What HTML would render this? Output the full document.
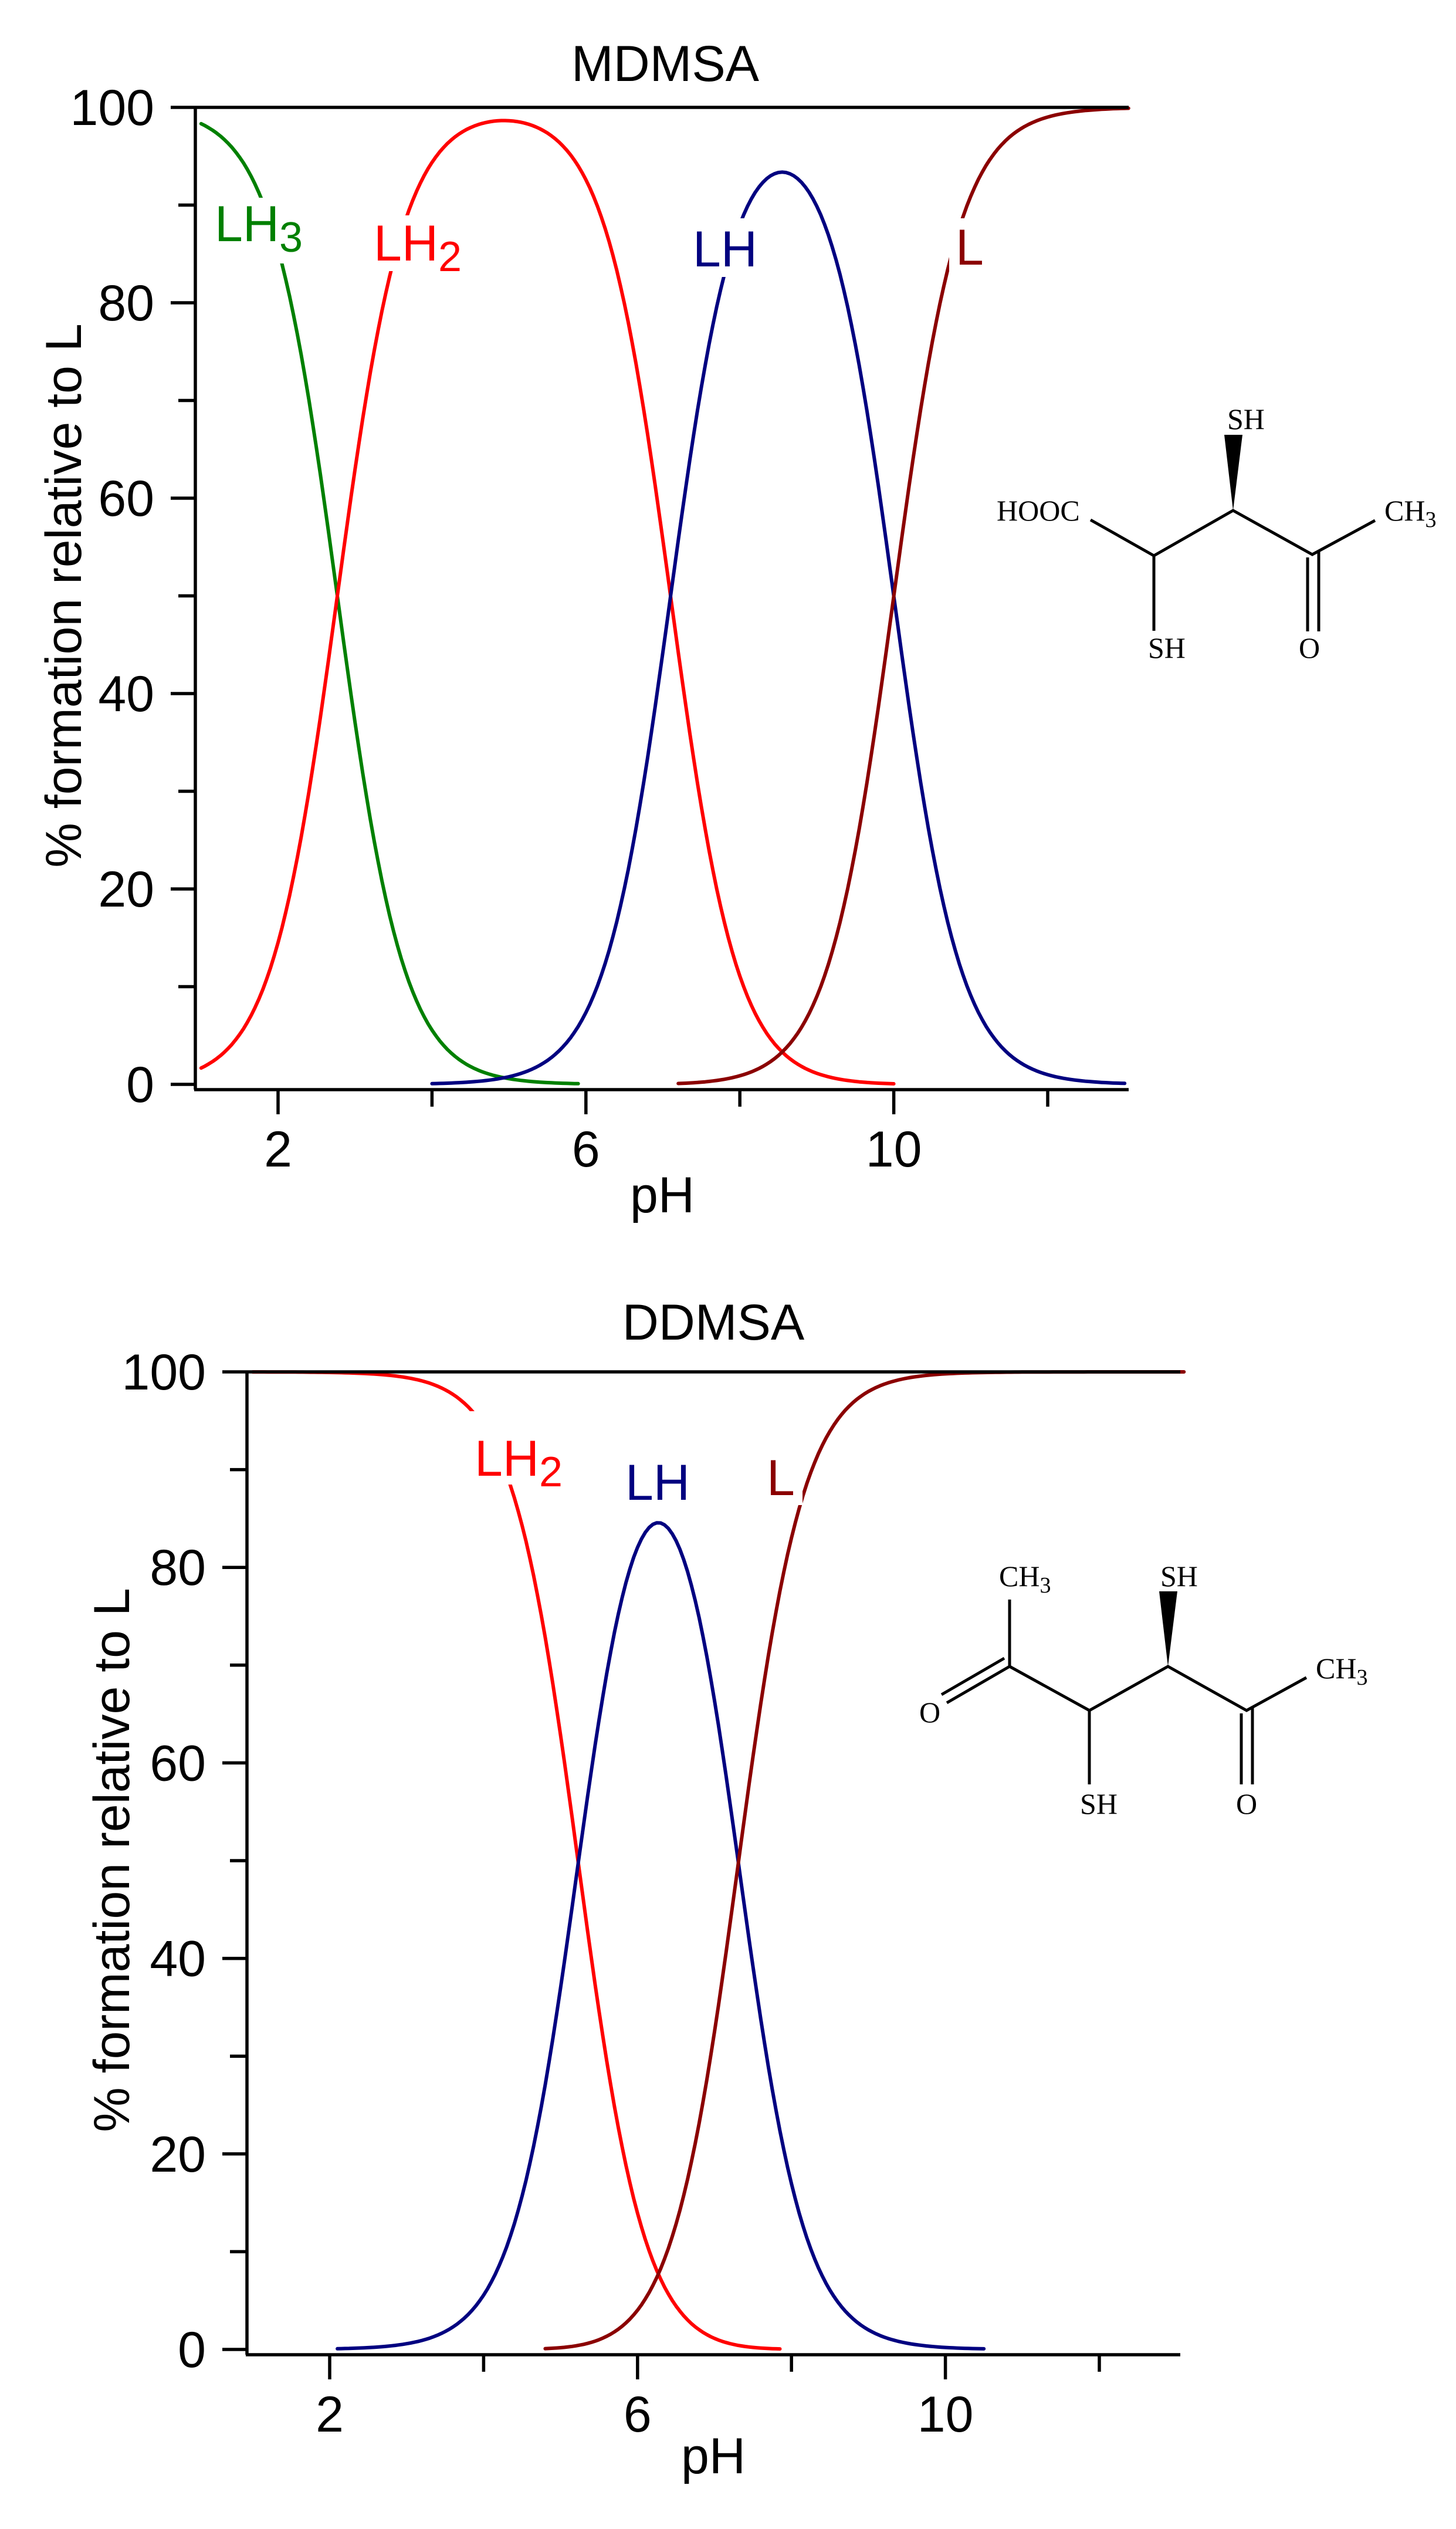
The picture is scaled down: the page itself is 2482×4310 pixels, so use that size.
<!DOCTYPE html>
<html><head><meta charset="utf-8"><style>
html,body{margin:0;padding:0;background:#fff}
svg{display:block}
.t{font-family:"Liberation Sans",Arial,sans-serif;font-size:86px;fill:#000}
.s{font-family:"Liberation Serif","Times New Roman",serif;font-size:50px;fill:#000}
</style></head><body>
<svg id="svg" width="2482" height="4310" viewBox="0 0 2482 4310" xmlns="http://www.w3.org/2000/svg">
<g id="plots" fill="none" stroke-width="6" stroke-linejoin="round" stroke-linecap="round"></g>
<g id="masks" fill="#fff">
<rect x="360" y="337" width="160" height="112"/>
<rect x="630" y="367" width="165" height="95"/>
<rect x="1172" y="372" width="125" height="100"/>
<rect x="1618" y="372" width="72" height="98"/>
<rect x="800" y="2405" width="165" height="125"/>
<rect x="1298" y="2430" width="70" height="135"/>
</g>
<g id="axes" stroke="#000" stroke-width="5.5" fill="none"></g>
<g class="t">
<text x="1134" y="138" text-anchor="middle">MDMSA</text>
<text x="1216" y="2283" text-anchor="middle">DDMSA</text>
<text x="366" y="411" style="fill:#008000">LH<tspan font-size="72" dy="18">3</tspan></text>
<text x="637" y="444" style="fill:#ff0000">LH<tspan font-size="72" dy="18">2</tspan></text>
<text x="1181" y="454" style="fill:#000080">LH</text>
<text x="1629" y="451" style="fill:#8b0000">L</text>
<text x="809" y="2515" style="fill:#ff0000">LH<tspan font-size="72" dy="18">2</tspan></text>
<text x="1066" y="2556" style="fill:#000080">LH</text>
<text x="1307" y="2548" style="fill:#8b0000">L</text>
<text x="1129" y="2066" text-anchor="middle">pH</text>
<text x="1216" y="4215" text-anchor="middle">pH</text>
<text transform="translate(138,1015) rotate(-90)" text-anchor="middle">% formation relative to L</text>
<text transform="translate(220,3170) rotate(-90)" text-anchor="middle">% formation relative to L</text>
</g>
<g id="ticklabels" class="t"></g>
<g stroke="#000" stroke-width="5" fill="none">
<polyline points="1859,886 1967,947 2102,870 2237,945 2344,887"/>
<line x1="1967" y1="947" x2="1967" y2="1075"/>
<line x1="2229" y1="950" x2="2229" y2="1076"/>
<line x1="2248" y1="940" x2="2248" y2="1076"/>
</g>
<polygon points="2102,870 2087,741 2118,741" fill="#000"/>
<g class="s">
<text x="1699" y="887">HOOC</text>
<text x="1957" y="1121">SH</text>
<text x="2092" y="731">SH</text>
<text x="2232" y="1121" text-anchor="middle">O</text>
<text x="2360" y="887">CH<tspan font-size="38" dy="11">3</tspan></text>
</g>
<g stroke="#000" stroke-width="5" fill="none">
<polyline points="1721,2840 1857,2915 1991,2840 2125,2915 2227,2859"/>
<line x1="1721" y1="2726" x2="1721" y2="2840"/>
<line x1="1857" y1="2915" x2="1857" y2="3041"/>
<line x1="1721" y1="2840" x2="1614" y2="2902"/>
<line x1="1712" y1="2826" x2="1605" y2="2888"/>
<line x1="2116" y1="2920" x2="2116" y2="3041"/>
<line x1="2135" y1="2910" x2="2135" y2="3041"/>
</g>
<polygon points="1991,2840 1976,2712 2007,2712" fill="#000"/>
<g class="s">
<text x="1703" y="2703">CH<tspan font-size="38" dy="11">3</tspan></text>
<text x="1585" y="2935" text-anchor="middle">O</text>
<text x="1873" y="3091" text-anchor="middle">SH</text>
<text x="1978" y="2703">SH</text>
<text x="2125" y="3091" text-anchor="middle">O</text>
<text x="2243" y="2860">CH<tspan font-size="38" dy="11">3</tspan></text>
</g>
</svg>
<script>
(function(){
var NS="http://www.w3.org/2000/svg";
var plots=document.getElementById("plots"),axes=document.getElementById("axes"),tl=document.getElementById("ticklabels");
function el(p,tag,a,txt){var e=document.createElementNS(NS,tag);for(var k in a)e.setAttribute(k,a[k]);if(txt!==undefined)e.textContent=txt;p.appendChild(e);return e;}
function species(pks,pH){var n=pks.length;var cum=0;var logs=[0];for(var i=0;i<n;i++){cum+=(pH-pks[i]);logs.push(cum);}
 var m=Math.max.apply(null,logs);var s=0;var w=logs.map(function(l){var v=Math.pow(10,l-m);s+=v;return v;});
 return w.map(function(v){return 100*v/s;});}
function chart(o){
 var X=function(p){return o.x2+(p-2)*131.2;},Y=function(v){return o.y0-v*(o.y0-o.y100)/100;};
 o.series.forEach(function(s){var d="";for(var p=s.a;p<=s.b+1e-9;p+=0.05){var v=species(o.pks,p)[s.i];d+=(d?"L":"M")+X(p).toFixed(1)+","+Y(v).toFixed(1);}
  el(plots,"path",{d:d,stroke:s.c});});
 el(axes,"line",{x1:o.ax,y1:o.y100,x2:o.ax,y2:o.yb});
 el(axes,"line",{x1:o.ax-2,y1:o.yb,x2:o.xr,y2:o.yb});
 el(axes,"line",{x1:o.ax-42,y1:o.y100,x2:o.xr,y2:o.y100});
 for(var v=0;v<=100;v+=10){var maj=v%20==0;var y=Y(v);
  if(v<100)el(axes,"line",{x1:o.ax-(maj?42:29),y1:y,x2:o.ax,y2:y});
  if(maj)el(tl,"text",{x:o.ax-70,y:y+30,"text-anchor":"end"},String(v));}
 for(var p=2;p<=12;p+=2){var maj=(p%4==2);var x=X(p);
  el(axes,"line",{x1:x,y1:o.yb,x2:x,y2:o.yb+(maj?42:29)});
  if(maj)el(tl,"text",{x:x,y:o.yb+131,"text-anchor":"middle"},String(p));}
}
chart({x2:474,y0:1848,y100:183,yb:1857,ax:333,xr:1924,pks:[2.77,7.1,10.0],
 series:[{i:0,a:1,b:5.9,c:"#008000"},{i:1,a:1,b:10,c:"#ff0000"},{i:2,a:4,b:13,c:"#000080"},{i:3,a:7.2,b:13.05,c:"#8b0000"}]});
chart({x2:562,y0:4004,y100:2338,yb:4013,ax:421,xr:2012,pks:[5.23,7.31],
 series:[{i:0,a:1,b:7.85,c:"#ff0000"},{i:1,a:2.1,b:10.5,c:"#000080"},{i:2,a:4.8,b:13.1,c:"#8b0000"}]});
})();
</script>
</body></html>
